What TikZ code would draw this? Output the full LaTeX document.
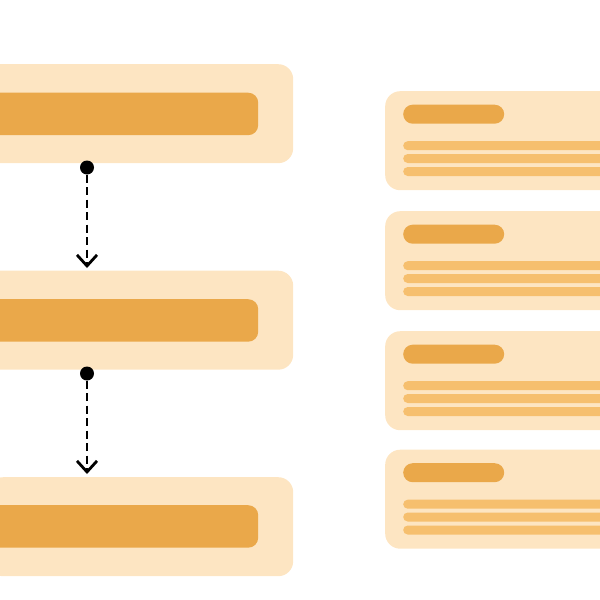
\documentclass[tikz,border=0pt]{standalone}
\usepackage{tikz}
\usetikzlibrary{arrows.meta,positioning}
\definecolor{peach}{HTML}{FDE5C2}
\definecolor{amber}{HTML}{EAA84A}
\definecolor{sand}{HTML}{F6BF6E}
\tikzset{
  stepbox/.style={fill=peach, rounded corners=15pt, inner sep=0pt, anchor=north west,
    minimum width=313pt, minimum height=99pt},
  stepbar/.style={fill=amber, rounded corners=10pt, inner sep=0pt, anchor=north west,
    minimum width=278pt, minimum height=42.5pt},
  card/.style={fill=peach, rounded corners=15pt, inner sep=0pt, anchor=north west,
    minimum width=240pt, minimum height=99pt},
  pill/.style={fill=amber, rounded corners=9.5pt, inner sep=0pt, anchor=north west,
    minimum width=101pt, minimum height=19pt},
  row/.style={fill=sand, rounded corners=4.5pt, inner sep=0pt, anchor=north west,
    minimum width=230pt, minimum height=9pt},
  dot/.style={circle, fill=black, inner sep=0pt, minimum size=14pt},
  link/.style={draw=black, line width=2.8pt, dash pattern=on 8pt off 4.5pt,
    -{Straight Barb[length=11pt,width=20pt]}}
}
\newcommand{\CardAt}[2]{%
  \node[card] (#1) at (385,#2) {};
  \node[pill] (#1t) at (403,{#2+13.5}) {};
  \node[row] (#1a) at (403,{#2+50}) {};
  \node[row] (#1b) at (403,{#2+62.8}) {};
  \node[row] (#1c) at (403,{#2+75.8}) {};
}

\begin{document}
\begin{tikzpicture}[x=1pt,y=-1pt]
  \useasboundingbox (0,0) rectangle (600,600);
  \clip (0,0) rectangle (600,600);

  % steps on the left
  \node[stepbox] (s1) at (-20,64) {};
  \node[stepbox] (s2) at (-20,270.5) {};
  \node[stepbox, minimum width=305pt] (s3) at (-12,477) {};
  \node[stepbar] (b1) at (-20,92.5) {};
  \node[stepbar] (b2) at (-20,299) {};
  \node[stepbar] (b3) at (-20,505) {};

  \node[dot] (d1) at (87,167.5) {};
  \node[dot] (d2) at (87,373.5) {};
  \coordinate (t1) at (87,268);
  \coordinate (t2) at (87,474);
  \draw[link] (d1) -- (t1);
  \draw[link] (d2) -- (t2);

  % cards on the right
  \CardAt{c1}{91}
  \CardAt{c2}{211}
  \CardAt{c3}{331}
  \CardAt{c4}{449.5}
\end{tikzpicture}
\end{document}
